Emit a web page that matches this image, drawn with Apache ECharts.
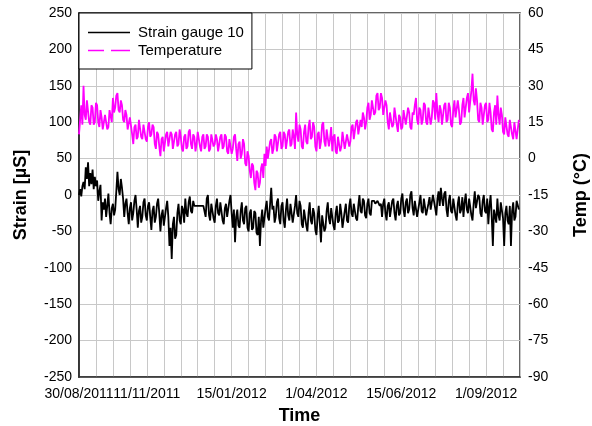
<!DOCTYPE html>
<html><head><meta charset="utf-8">
<script src="https://cdn.jsdelivr.net/npm/echarts@6/dist/echarts.min.js"></script>
<style>html,body{margin:0;padding:0;background:#fff}#c{width:592px;height:426px}</style>
</head><body><div id="c"></div>
<script>
// x positions are days since 30/08/2011 (one sample per day)
const dayStep = 1;
const tickDays = [0, 60, 135, 210, 285, 360];
const tickLabels = ['30/08/2011', '11/11/2011', '15/01/2012', '1/04/2012', '15/06/2012', '1/09/2012'];

// Strain gauge 10 [µS]
const strain = [
  0, 8, -2, 12, 18, 8, 38, 22, 45, 12, 30, 15, 35, 8, 25, 12, 20, -8, 5, 14,
  -35, -10, -20, -5, -30, -15, 2, -25, -40, -18, -12, -28, -20, 5, 32, 8, 0, 22, 10, -5,
  -30, -12, -5, -25, -40, -18, -10, -35, -25, -8, 0, -20, -45, -22, -15, -38, -30, -10, -5, -28,
  -35, -15, -10, -30, -48, -22, -15, -38, -30, -12, -5, -25, -50, -28, -20, -42, -40, -18, -8, -30,
  -70, -45, -88, -40, -30, -60, -55, -25, -12, -35, -40, -15, -20, -38, -5, -25, -30, -10, -2, -22,
  -25, -8, -15, -15, -15, -15, -15, -15, -15, -15, -15, -15, -30, -5, 0, -28, -35, -12, -10, -32,
  -38, -15, -5, -25, -28, -10, -8, -35, -40, -18, -12, -30, -30, -8, 0, -25, -45, -20, -65, -30,
  -20, -42, -45, -22, -10, -35, -40, -18, -15, -45, -50, -25, -20, -48, -45, -22, -25, -52, -55, -30,
  -70, -35, -20, -45, -45, -18, -8, -30, -35, -12, 10, -20, -15, -38, -30, -10, -5, -32, -40, -15,
  -10, -35, -45, -20, -5, -28, -35, -12, -12, -38, -40, -15, 0, -25, -30, -8, -15, -40, -45, -20,
  -20, -42, -50, -25, -10, -35, -40, -18, -25, -48, -55, -30, -15, -40, -65, -28, -30, -50, -45, -22,
  -10, -32, -40, -18, -20, -42, -48, -25, -15, -38, -35, -12, -25, -45, -45, -22, -12, -35, -38, -15,
  -5, -25, -30, -12, -10, -32, -35, -15, 0, -22, -25, -5, -8, -28, -32, -12, -5, -25, -28, -8,
  -10, -8, -12, -10, -8, -10, -15, -12, -30, -12, -5, -25, -35, -15, -10, -30, -28, -8, -5, -25,
  -35, -15, -8, -28, -25, -5, 2, -20, -30, -10, -5, -25, -20, 0, 5, -18, -28, -8, -10, -30,
  -30, -10, 0, -22, -25, -5, -5, -28, -30, -12, -3, -20, -22, 0, 2, -18, -28, -5, 5, -15,
  10, -5, -15, 2, 5, -20, -30, -8, 0, -22, -25, -5, -5, -28, -35, -12, -2, -25, -20, -3,
  -30, -10, 2, -20, -25, -5, -5, -28, -35, -12, 5, -18, -20, 0, -3, -25, -30, -8, 0, -22,
  -25, -5, -40, -15, 0, -30, -70, -20, -20, -38, -5, -28, -35, -10, -8, -32, -70, -25, -15, -35,
  -40, -15, -70, -22, -10, -35, -30, -8, -8, -20
];

// Temperature [°C]
const temperature = [
  10, 16, 22, 14, 30, 18, 16, 24, 24, 15, 14, 22, 21, 14, 15, 23, 22, 15, 13, 20,
  17, 12, 12, 18, 18, 12, 13, 20, 20, 15, 25, 19, 21, 26, 27, 20, 19, 24, 22, 16,
  15, 20, 18, 12, 12, 17, 17, 10, 6, 13, 14, 8, 9, 16, 16, 9, 8, 14, 14, 8,
  7, 13, 15, 9, 10, 14, 13, 6, 4, 11, 10, 5, 1, 8, 9, 3, 3, 10, 11, 5,
  5, 11, 10, 4, 4, 10, 11, 5, 6, 12, 9, 4, 3, 9, 10, 4, 5, 11, 12, 6,
  4, 10, 9, 3, 6, 11, 11, 5, 3, 9, 10, 4, 5, 10, 9, 3, 4, 10, 10, 5,
  6, 10, 8, 3, 3, 9, 10, 4, 5, 10, 9, 3, 2, 8, 8, 2, 4, 9, 10, 4,
  -1, 6, 7, 0, 2, 8, 6, -2, -3, 3, 1, -5, -8, -2, -3, -10, -13, -5, -6, -12,
  -10, -4, -2, -8, 2, -3, 5, 0, 0, 7, 8, 2, 4, 10, 9, 3, 3, 10, 11, 4,
  5, 11, 10, 4, 4, 11, 12, 5, 6, 12, 9, 4, 19, 10, 7, 14, 12, 5, 4, 11,
  14, 7, 6, 13, 16, 8, 9, 15, 13, 5, 3, 10, 11, 4, 7, 14, 15, 7, 5, 12,
  12, 5, 8, 13, 3, 9, 10, 3, 2, 9, 9, 3, 5, 11, 11, 4, 4, 10, 10, 5,
  7, 13, 14, 8, 8, 15, 16, 10, 10, 16, 13, 19, 17, 12, 15, 21, 23, 16, 18, 24,
  24, 18, 19, 26, 27, 20, 21, 27, 25, 18, 18, 24, 22, 15, 12, 19, 19, 13, 14, 21,
  21, 14, 11, 18, 17, 12, 13, 20, 20, 14, 14, 21, 19, 13, 12, 19, 18, 22, 25, 16,
  14, 21, 20, 14, 16, 23, 22, 15, 14, 21, 21, 14, 17, 24, 23, 16, 27, 19, 15, 22,
  20, 14, 14, 22, 23, 15, 16, 23, 21, 14, 13, 20, 24, 17, 17, 24, 20, 14, 15, 22,
  25, 17, 17, 25, 27, 19, 19, 28, 35, 24, 22, 29, 24, 16, 15, 23, 21, 14, 14, 22,
  23, 15, 16, 23, 19, 12, 11, 19, 22, 14, 26, 18, 14, 21, 18, 11, 10, 17, 17, 10,
  9, 16, 16, 10, 8, 15, 15, 8, 12, 16
];

const FONT = 'Liberation Sans, Arial, sans-serif';
const chart = echarts.init(document.getElementById('c'), null, {renderer: 'canvas'});
const gridColor = '#c8c8c8';
const labelFmt = v => { const k = tickDays.indexOf(v); return k >= 0 ? tickLabels[k] : ''; };
const titleStyle = {fontFamily: FONT, fontSize: 18, fontWeight: 'bold', color: '#000'};
const lblStyle = {fontSize: 14, color: '#000', fontFamily: FONT};
chart.setOption({
  animation: false,
  backgroundColor: '#fff',
  textStyle: {fontFamily: FONT},
  grid: {left: 79, right: 72, top: 13, bottom: 49, outerBoundsMode: 'none', containLabel: false,
         show: true, borderColor: '#333', borderWidth: 1.5, backgroundColor: 'transparent'},
  legend: {
    left: 79, top: 13, orient: 'vertical',
    backgroundColor: '#fff', borderColor: '#000', borderWidth: 1,
    padding: [12, 8, 11, 9], itemGap: 3, itemWidth: 42, itemHeight: 15,
    textStyle: {fontFamily: FONT, fontSize: 15, color: '#000', padding: [0, 0, 0, 3]},
    data: [
      {name: 'Strain gauge 10', icon: 'path://M0,6 L42,6 L42,7.6 L0,7.6 Z', itemStyle: {color: '#000'}},
      {name: 'Temperature', icon: 'path://M0,6 L16,6 L16,7.6 L0,7.6 Z M23,6 L42,6 L42,7.6 L23,7.6 Z', itemStyle: {color: '#ff00ff'}}
    ]
  },
  xAxis: [{
    type: 'value', min: 0, max: 390, interval: 15, position: 'bottom',
    name: 'Time', nameLocation: 'middle', nameGap: 30, nameMoveOverlap: false,
    nameTextStyle: titleStyle,
    axisLine: {show: true, onZero: false, lineStyle: {color: '#333', width: 1.5}},
    axisTick: {show: false},
    splitLine: {show: true, lineStyle: {color: gridColor, width: 1}},
    axisLabel: Object.assign({
      customValues: tickDays.slice(1), hideOverlap: false, margin: 10, formatter: labelFmt
    }, lblStyle)
  }, {
    // carries the first date label, which overlaps its neighbour as in the original
    type: 'value', min: 0, max: 390, position: 'bottom', offset: 0,
    axisLine: {show: false}, axisTick: {show: false}, splitLine: {show: false},
    axisLabel: Object.assign({
      customValues: tickDays.slice(0, 1), showMinLabel: true, margin: 10, formatter: labelFmt
    }, lblStyle)
  }],
  yAxis: [{
    type: 'value', min: -250, max: 250, interval: 50, position: 'left',
    name: 'Strain [µS]', nameLocation: 'middle', nameGap: 49, nameRotate: 90, nameMoveOverlap: false,
    nameTextStyle: titleStyle,
    axisLine: {show: true, lineStyle: {color: '#333', width: 1.5}},
    axisTick: {show: false},
    splitLine: {show: true, lineStyle: {color: gridColor, width: 1}},
    axisLabel: Object.assign({margin: 7}, lblStyle)
  }, {
    type: 'value', min: -90, max: 60, interval: 15, position: 'right',
    name: 'Temp (°C)', nameLocation: 'middle', nameGap: 52, nameRotate: 90, nameMoveOverlap: false,
    nameTextStyle: titleStyle,
    axisLine: {show: true, lineStyle: {color: '#333', width: 1.5}},
    axisTick: {show: false},
    splitLine: {show: false},
    axisLabel: Object.assign({margin: 8}, lblStyle)
  }],
  series: [{
    name: 'Strain gauge 10', type: 'line', xAxisIndex: 0, yAxisIndex: 0, showSymbol: false, symbol: 'none',
    color: '#000', lineStyle: {color: '#000', width: 1.8},
    data: strain.map((v, i) => [i * dayStep, v])
  }, {
    name: 'Temperature', type: 'line', xAxisIndex: 0, yAxisIndex: 1, showSymbol: false, symbol: 'none',
    color: '#ff00ff', lineStyle: {color: '#ff00ff', width: 1.8},
    data: temperature.map((v, i) => [i * dayStep, v])
  }]
});
</script>
</body></html>
